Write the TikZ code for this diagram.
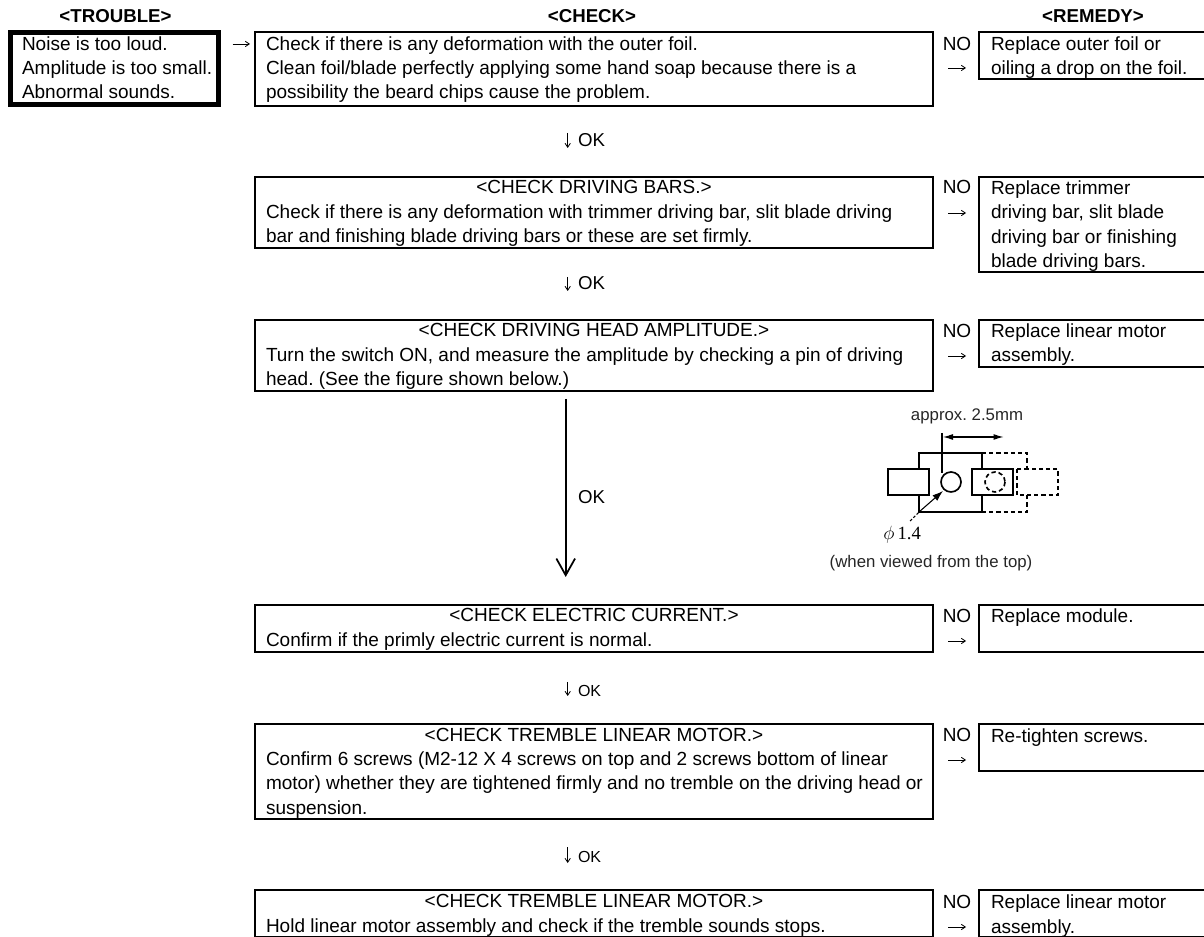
\documentclass[tikz,border=0pt]{standalone}
\usepackage{fontspec}
\setmainfont{Liberation Sans}
\newfontfamily\serifft{Liberation Serif}
\usetikzlibrary{arrows.meta}
\frenchspacing
\newcommand\bx[6][]{\pgfmathsetmacro\bw{(#5-#3)*.75}\pgfmathsetmacro\bh{(#6-#4)*.75}%
  \node[boxn,#1,minimum width=\bw pt,minimum height=\bh pt] (#2) at (#3,#4) {};}
\tikzset{
  boxn/.style={draw=black,line width=1.5pt,inner sep=0pt,outer sep=0pt,anchor=north west},
  thickbox/.style={line width=3.75pt},
  txt/.style={inner sep=0pt,outer sep=0pt,anchor=base west,align=left,text=black,
     font=\fontsize{14.25}{18.2}\selectfont},
  head/.style={inner sep=0pt,outer sep=0pt,anchor=base,text=black,font=\fontsize{14.25}{18.2}\selectfont},
  colhead/.style={inner sep=0pt,outer sep=0pt,anchor=base,text=black,font=\fontsize{14}{18}\selectfont\bfseries},
  nolab/.style={inner sep=0pt,outer sep=0pt,anchor=base,text=black,font=\fontsize{14.25}{18.2}\selectfont},
  oklab/.style={inner sep=0pt,outer sep=0pt,anchor=base west,text=black,font=\fontsize{14}{18}\selectfont},
  oksmall/.style={inner sep=0pt,outer sep=0pt,anchor=base west,text=black,font=\fontsize{12}{14}\selectfont},
  smallarrow/.style={draw=black,line width=.6pt,-{Straight Barb[length=3pt,width=4pt]}},
  bigarrow/.style={draw=black,line width=1.4pt,-{Straight Barb[length=12.5pt,width=14pt,line width=1.3pt]}},
  fig/.style={draw=black,line width=1.25pt},
  figd/.style={draw=black,line width=1.25pt,dash pattern=on 3.2pt off 2.2pt},
  figthin/.style={draw=black,line width=.8pt},
  figtxt/.style={inner sep=0pt,outer sep=0pt,anchor=base,text=black!85,font=\fontsize{12.6}{15}\selectfont},
}
\begin{document}
\begin{tikzpicture}[x=0.75pt,y=-0.75pt]
\clip (0,0) rectangle (1204,937);
% column headers
\node[colhead] (hT) at (115.5,23) {<TROUBLE>};
\node[colhead] (hC) at (592,23) {<CHECK>};
\node[colhead] (hR) at (1093,23) {<REMEDY>};
% boxes
\bx[thickbox]{trouble}{10.5}{32.5}{218.5}{104.5}
\bx{c1}{255}{32}{933}{106}
\bx{c2}{255}{177}{933}{248}
\bx{c3}{255}{320}{933}{391}
\bx{c4}{255}{605}{933}{652}
\bx{c5}{255}{724}{933}{818.5}
\bx{c6}{255}{890}{933}{936.5}
\bx{r1}{979}{32}{1212}{79}
\bx{r2}{979}{177}{1212}{272}
\bx{r3}{979}{320}{1212}{367}
\bx{r4}{979}{605}{1212}{652}
\bx{r5}{979}{724}{1212}{771}
\bx{r6}{979}{890}{1212}{936.5}
% trouble text
\node[txt] (tT) at (22,99) {Noise is too loud.\\Amplitude is too small.\\Abnormal sounds.};
% check texts
\node[txt] (t1) at (266,99) {Check if there is any deformation with the outer foil.\\Clean foil/blade perfectly applying some hand soap because there is a\\possibility the beard chips cause the problem.};
\node[head] (h2) at (594,193.5) {<CHECK DRIVING BARS.>};
\node[txt] (t2) at (266,242.5) {Check if there is any deformation with trimmer driving bar, slit blade driving\\bar and finishing blade driving bars or these are set firmly.};
\node[head] (h3) at (594,336.7) {<CHECK DRIVING HEAD AMPLITUDE.>};
\node[txt] (t3) at (266,386) {Turn the switch ON, and measure the amplitude by checking a pin of driving\\head. (See the figure shown below.)};
\node[head] (h4) at (594,622) {<CHECK ELECTRIC CURRENT.>};
\node[txt] (t4) at (266,647) {Confirm if the primly electric current is normal.};
\node[head] (h5) at (594,741) {<CHECK TREMBLE LINEAR MOTOR.>};
\node[txt] (t5) at (266,814) {Confirm 6 screws (M2-12 X 4 screws on top and 2 screws bottom of linear\\motor) whether they are tightened firmly and no tremble on the driving head or\\suspension.};
\node[head] (h6) at (594,907) {<CHECK TREMBLE LINEAR MOTOR.>};
\node[txt] (t6) at (266,932) {Hold linear motor assembly and check if the tremble sounds stops.};
% remedy texts
\node[txt] (m1) at (991,75) {Replace outer foil or\\oiling a drop on the foil.};
\node[txt] (m2) at (991,267.5) {Replace trimmer\\driving bar, slit blade\\driving bar or finishing\\blade driving bars.};
\node[txt] (m3) at (991,362) {Replace linear motor\\assembly.};
\node[txt] (m4) at (991,623) {Replace module.};
\node[txt] (m5) at (991,743) {Re-tighten screws.};
\node[txt] (m6) at (991,933) {Replace linear motor\\assembly.};
% NO labels
\node[nolab] (n1) at (957,51) {NO};
\node[nolab] (n2) at (957,194) {NO};
\node[nolab] (n3) at (957,338) {NO};
\node[nolab] (n4) at (957,623) {NO};
\node[nolab] (n5) at (957,742) {NO};
\node[nolab] (n6) at (957,908) {NO};
% guide coordinates
\coordinate (y0) at (0,44);
\coordinate (y1) at (0,68);
\coordinate (y2) at (0,213);
\coordinate (y3) at (0,356);
\coordinate (y4) at (0,641);
\coordinate (y5) at (0,760);
\coordinate (y6) at (0,927);
\coordinate (xd) at (567.7,0);
\coordinate (xb) at (565.7,0);
% horizontal connectors
\draw[smallarrow,shorten <=10.5pt,shorten >=3.75pt] (trouble.east |- y0) -- (c1.west |- y0);
\foreach \i in {1,...,6}{
  \draw[smallarrow,shorten <=11.25pt,shorten >=9.75pt] (c\i.east |- y\i) -- (r\i.west |- y\i);
}
% vertical connectors
\draw[smallarrow,shorten <=20.25pt,shorten >=21.75pt] (xd |- c1.south) -- (xd |- c2.north);
\draw[smallarrow,shorten <=21.75pt,shorten >=21.75pt] (xd |- c2.south) -- (xd |- c3.north);
\draw[bigarrow,shorten <=6pt,shorten >=21pt] (xb |- c3.south) -- (xb |- c4.north);
\draw[smallarrow,shorten <=22.5pt,shorten >=21pt] (xd |- c4.south) -- (xd |- c5.north);
\draw[smallarrow,shorten <=21.4pt,shorten >=20.25pt] (xd |- c5.south) -- (xd |- c6.north);
% OK labels
\node[oklab] (k1) at (578,147) {OK};
\node[oklab] (k2) at (578,290) {OK};
\node[oklab] (k3) at (578,504) {OK};
\node[oksmall] (k4) at (578,696) {OK};
\node[oksmall] (k5) at (578,862) {OK};
% figure
\node[figtxt] (fa) at (967,421) {approx. 2.5mm};
\draw[figthin] (942,433) -- (942,473);
\draw[figthin,{Latex[length=7.5pt,width=4.5pt]}-{Latex[length=7.5pt,width=4.5pt]}] (943,437) -- (1003.5,437);
\draw[fig] (888,469) rectangle (929,495);
\draw[fig] (972,469) rectangle (1013,495);
\draw[fig] (919,469) -- (919,453) -- (982,453) -- (982,469);
\draw[fig] (919,495) -- (919,512) -- (982,512) -- (982,495);
\draw[fig] (951,482) circle (10);
\draw[figd] (982,453) -- (1027,453) -- (1027,469);
\draw[figd] (982,512) -- (1027,512) -- (1027,495);
\draw[figd] (1017,469) rectangle (1058,495);
\draw[figd] (995,482) circle (10);
\draw[figthin,-{Latex[length=8pt,width=5.5pt]}] (919,512) -- (943,491);
\draw[figthin,dash pattern=on 2pt off 1.5pt] (910,521) -- (919,512);
\node[inner sep=0pt,anchor=base west,text=black,font=\fontsize{14}{16}\selectfont\serifft] (fp) at (883,540) {$\phi$\,1.4};
\node[figtxt] (fw) at (931,568) {(when viewed from the top)};
\end{tikzpicture}
\end{document}
